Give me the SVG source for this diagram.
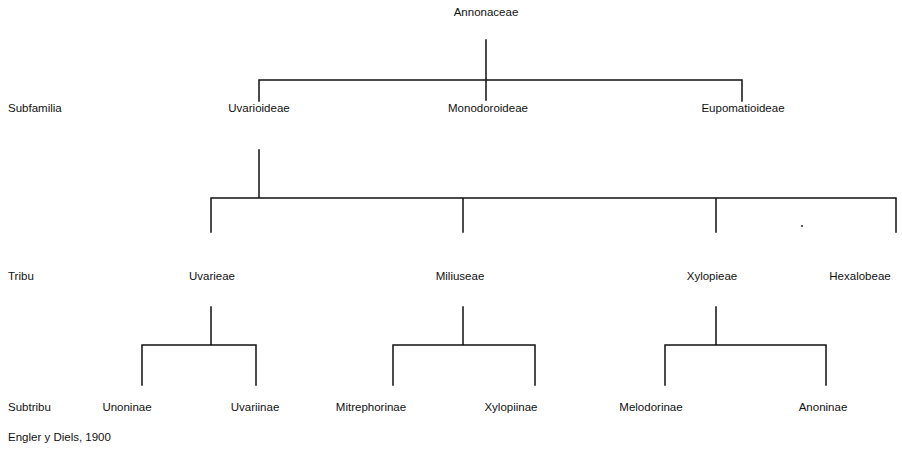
<svg xmlns="http://www.w3.org/2000/svg" width="902" height="461" viewBox="0 0 902 461">
  <style>
    text { font-family: "Liberation Sans", Arial, sans-serif; font-size: 11.5px; fill: #111; }
    .c { text-anchor: middle; }
    .ln { fill: none; stroke: #111; stroke-width: 1.5; stroke-linecap: square; }
  </style>
  <rect width="902" height="461" fill="#fff"/>

  <!-- connectors -->
  <g id="connectors">
    <!-- family to subfamilies -->
    <path class="ln" d="M486 40 V100 M259 101 V80 H742 V101"/>
    <!-- Uvarioideae to tribes -->
    <path class="ln" d="M259 150 V198 M211 232 V198 H896 V232 M463 198 V232 M716 198 V232"/>
    <!-- tribes to subtribes -->
    <path class="ln" d="M211 307 V345 M142 385 V345 H256 V385"/>
    <path class="ln" d="M463 307 V345 M393 385 V345 H535 V385"/>
    <path class="ln" d="M716 307 V345 M665 385 V345 H826 V385"/>
    <circle cx="802" cy="226" r="0.9" fill="#111"/>
  </g>

  <!-- rank labels -->
  <g id="ranks">
    <text x="8" y="112">Subfamilia</text>
    <text x="8" y="280">Tribu</text>
    <text x="8" y="411">Subtribu</text>
  </g>

  <g id="annonaceae"><text class="c" x="486" y="16">Annonaceae</text></g>

  <g id="uvarioideae"><text class="c" x="259" y="112">Uvarioideae</text></g>
  <g id="monodoroideae"><text class="c" x="488" y="112">Monodoroideae</text></g>
  <g id="eupomatioideae"><text class="c" x="743" y="112">Eupomatioideae</text></g>

  <g id="uvarieae"><text class="c" x="212" y="280">Uvarieae</text></g>
  <g id="miliuseae"><text class="c" x="460" y="280">Miliuseae</text></g>
  <g id="xylopieae"><text class="c" x="712" y="280">Xylopieae</text></g>
  <g id="hexalobeae"><text class="c" x="860" y="280">Hexalobeae</text></g>

  <g id="unoninae"><text class="c" x="127" y="411">Unoninae</text></g>
  <g id="uvariinae"><text class="c" x="255" y="411">Uvariinae</text></g>
  <g id="mitrephorinae"><text class="c" x="371" y="411">Mitrephorinae</text></g>
  <g id="xylopiinae"><text class="c" x="511" y="411">Xylopiinae</text></g>
  <g id="melodorinae"><text class="c" x="651" y="411">Melodorinae</text></g>
  <g id="anoninae"><text class="c" x="823" y="411">Anoninae</text></g>

  <g id="source"><text x="8" y="441">Engler y Diels, 1900</text></g>
</svg>
